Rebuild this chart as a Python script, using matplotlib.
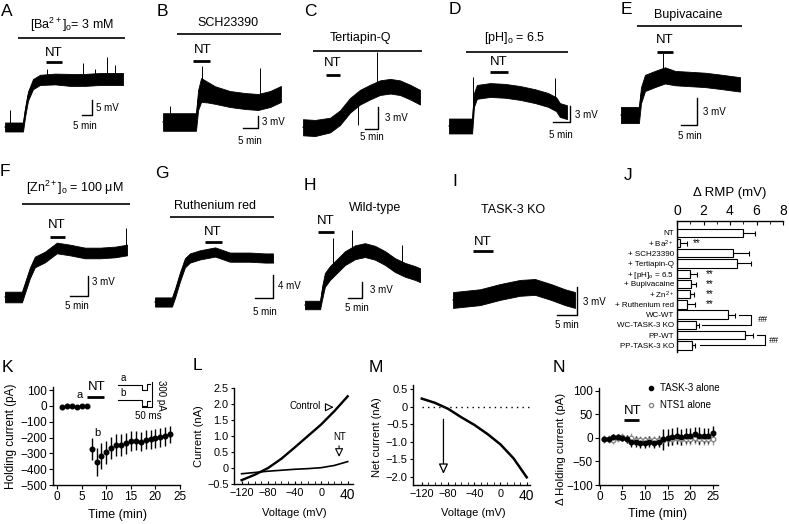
import matplotlib
matplotlib.use('Agg')
import matplotlib.pyplot as plt
import numpy as np
from matplotlib.lines import Line2D

plt.rcParams['font.family'] = ['Liberation Sans', 'DejaVu Sans']
plt.rcParams['mathtext.fontset'] = 'custom'
plt.rcParams['mathtext.rm'] = 'Liberation Sans'
plt.rcParams['mathtext.it'] = 'Liberation Sans:italic'
plt.rcParams['mathtext.bf'] = 'Liberation Sans:bold'
plt.rcParams['axes.linewidth'] = 1.0

# ---------------- data: membrane potential traces (min, mV above baseline) ----------------
A_t = [0, 9, 10, 11.5, 14, 17.5, 25, 32.5, 40, 47.5, 59]
A_v = [0, 0, 4.7, 10.3, 14.3, 15.7, 16, 15.7, 15.7, 16, 16]
A_n = [1.5, 1.5, 1.5, 1.5, 1.7, 1.7, 1.8, 2.0, 2.0, 2.0, 2.0]
A_spk_t = [2.5, 21, 39, 45, 51, 55]
A_spk_v = [5.7, 19.5, 21.3, 19.5, 23.3, 20.7]

B_t = [0, 11, 11.7, 12.7, 14.7, 17.3, 22.3, 27.3, 31.7, 35.7, 39.3]
B_v = [0, 0, 5.5, 8, 7.5, 6.75, 5.75, 5.25, 5, 5.75, 7]
B_n = [2.2, 2.2, 2.5, 3.0, 2.6, 2.2, 2.0, 2.0, 2.0, 2.0, 2.0]
B_spk_t = [2.3, 13, 32.3]
B_spk_v = [4, 14, 13.5]

C_t = [0, 4.6, 10.4, 14.2, 18.1, 21.9, 25.8, 29.6, 33.5, 37.3, 41.2, 45]
C_v = [0.1, 0, 0.4, 1.4, 3.1, 4.2, 4.9, 5.5, 5.7, 5.5, 4.9, 4.2]
C_n = [1.1, 1.1, 1.0, 1.0, 1.0, 1.0, 1.0, 1.0, 1.0, 1.0, 1.0, 1.0]
C_spk_t = [21, 28.5]
C_spk_v = [0.4, 10.4]

D_t = [0, 6.8, 7.35, 8.2, 12.1, 16.5, 20.9, 25.3, 29.1, 31.5, 32.6, 34.7]
D_v = [0, 0, 4.9, 6.4, 6.75, 6.6, 6.2, 5.6, 4.9, 4.1, 3.0, 2.6]
D_n = [1.4, 1.4, 1.3, 1.3, 1.3, 1.3, 1.3, 1.3, 1.3, 1.3, 1.3, 1.3]
D_spk_t = [7, 31.2]
D_spk_v = [9.2, 9]

E_t = [0, 5.6, 6.25, 7.5, 10.6, 13.75, 16.9, 21.6, 26.25, 30.9, 37.2]
E_v = [0, 0, 2.2, 3.56, 4, 4.4, 4.1, 4, 3.9, 3.7, 3.4]
E_n = [0.9, 0.9, 0.9, 0.9, 0.9, 0.9, 0.8, 0.8, 0.8, 0.8, 0.8]
E_spk_t = [13]
E_spk_v = [6.9]

F_t = [0, 4.7, 5.8, 6.9, 8.3, 11.1, 14.4, 18, 22.2, 26.4, 30.6, 33.9]
F_v = [0, 0, 1.8, 3.6, 5.25, 6, 7.35, 7.05, 6.6, 6.6, 6.75, 7.05]
F_n = [0.8, 0.8, 0.8, 0.8, 0.8, 0.8, 0.8, 0.8, 0.8, 0.8, 0.8, 0.8]
F_spk_t = [33.6]
F_spk_v = [10.3]

G_t = [0, 4.7, 5.6, 6.9, 8.3, 9.7, 12.5, 16.7, 20.8, 26.4, 30.6, 32.8]
G_v = [0, 0, 1.6, 4.3, 6.8, 7.65, 8.2, 8.7, 7.8, 7.8, 7.65, 7.65]
G_n = [0.8, 0.8, 0.8, 0.8, 0.8, 0.8, 0.8, 0.8, 0.8, 0.8, 0.8, 0.8]
G_spk_t = []
G_spk_v = []

H_t = [0, 5.4, 6.1, 7.1, 8.9, 11.8, 14.3, 17.9, 21.4, 25, 28.6, 32.1, 35.7, 39.3, 41.1]
H_v = [0, 0, 2.25, 4.7, 6, 7.5, 8.8, 9.9, 10.3, 9.8, 8.8, 7.5, 6.6, 6, 5.6]
H_n = [0.8, 0.8, 1.2, 1.3, 1.3, 1.3, 1.3, 1.3, 1.3, 1.3, 1.3, 1.3, 1.3, 1.3, 1.3]
H_spk_t = [10, 16.8, 34.6]
H_spk_v = [12.6, 14, 11.3]

I_t = [0, 6.75, 11.75, 16.75, 20.5, 24.5, 28, 30.5]
I_v = [0, 0.3, 0.86, 1.3, 1.4, 0.86, 0.3, 0]
I_n = [0.85, 0.85, 0.85, 0.85, 0.85, 0.85, 0.85, 0.85]

# ---------------- data: J bar chart ----------------
J_labels = ['NT', r'+ Ba$^{2+}$', '+ SCH23390', '+ Tertiapin-Q', r'+ [pH]$_{\rm o}$ = 6.5',
            '+ Bupivacaine', r'+ Zn$^{2+}$', '+ Ruthenium red', 'WC-WT', 'WC-TASK-3 KO',
            'PP-WT', 'PP-TASK-3 KO']
J_mean = [5.0, 0.25, 4.2, 4.5, 1.0, 1.05, 1.0, 0.75, 3.85, 1.45, 5.1, 1.1]
J_err = [0.9, 0.5, 1.2, 1.1, 0.5, 0.4, 0.3, 0.6, 0.5, 0.2, 0.6, 0.25]

# ---------------- data: K holding current ----------------
K_t = list(range(1, 24))
K_mean = [-5, 2, 2, -5, 2, 2, -275, -355, -317, -294, -268, -247, -245, -237, -222,
          -222, -226, -215, -210, -206, -199, -191, -180]
K_err = [0, 0, 0, 0, 0, 0, 70, 90, 80, 72, 70, 70, 70, 65, 62, 60, 60, 60, 60, 60, 60, 60, 55]
# inset current traces (ms, pA)
Ka_t = [0, 118, 118, 143, 143, 160]
Ka_i = [0, 0, -60, -60, 15, 15]
Kb_t = [0, 118, 118, 143, 143, 160]
Kb_i = [-176, -176, -246, -246, -190, -190]

# ---------------- data: L I-V ----------------
L_V = [-120, -100, -80, -60, -40, -20, 0, 20, 40]
L_control = [-0.38, -0.21, 0.0, 0.29, 0.64, 1.0, 1.36, 1.78, 2.24]
L_nt = [-0.18, -0.14, -0.10, -0.07, -0.04, -0.02, 0.01, 0.08, 0.2]

# ---------------- data: M net current ----------------
M_V = [-120, -100, -80, -60, -40, -20, 0, 20, 40]
M_I = [0.23, 0.11, -0.06, -0.3, -0.52, -0.78, -1.08, -1.48, -2.02]

# ---------------- data: N ----------------
N_t = list(range(1, 26))
N_task = [-3, -3, 3, 2, 0, -2, -8, -8, -10, -10, -8, -10, -8, -3, 0, 2, 5, 2, 5, 5, 8, 5, 5, 5, 10]
N_task_err = [5, 6, 6, 6, 6, 8, 12, 12, 12, 12, 12, 12, 12, 22, 18, 18, 18, 16, 16, 16, 16, 18, 16, 16, 16]
N_nts = [-2, -2, -5, 0, 2, -2, 0, -5, -5, -5, -5, -5, -5, -5, -3, -3, 0, -3, -3, -3, 0, -3, -3, -3, -3]
N_nts_err = [8, 8, 8, 8, 8, 8, 10, 10, 10, 10, 10, 10, 12, 15, 12, 12, 12, 12, 12, 12, 12, 12, 12, 12, 12]

# ======================================================================
W, H = 789, 524
fig = plt.figure(figsize=(W / 100, H / 100), dpi=100)


def px_axes(l, t, r, b):
    return fig.add_axes([l / W, 1 - b / H, (r - l) / W, (b - t) / H])


def T(x, y, s, size=9, ha='center', va='center', **kw):
    fig.text(x / W, 1 - y / H, s, fontsize=size, ha=ha, va=va, **kw)


def trace_axes(box, x0, y0, ppm, ppv):
    l, t, r, b = box
    ax = px_axes(l, t, r, b)
    ax.set_xlim((l - x0) / ppm, (r - x0) / ppm)
    ax.set_ylim((y0 - b) / ppv, (y0 - t) / ppv)
    ax.axis('off')
    return ax


def trace(ax, t, v, n, spk_t=(), spk_v=()):
    t = np.asarray(t, float); v = np.asarray(v, float); n = np.asarray(n, float)
    ax.fill_between(t, v - n, v + n, color='k', lw=0.6, clip_on=False)
    ax.plot(t, v, color='k', lw=0.8, clip_on=False)
    if len(spk_t):
        base = np.interp(spk_t, t, v)
        ax.vlines(spk_t, base, spk_v, color='k', lw=0.7, clip_on=False)


def hbar(ax, t0, t1, v, lw):
    ax.plot([t0, t1], [v, v], color='k', lw=lw, solid_capstyle='butt', clip_on=False)


def sbar(ax, tr, vb, dt, dv):
    ax.plot([tr - dt, tr, tr], [vb, vb, vb + dv], color='k', lw=1.0, clip_on=False)


panels = [
    # box, x0, y0, ppm, ppv, data, cond(t0,t1,v), nt(t0,t1,v), scalebar(tr,vb,dv)
    ((0, 0, 155, 150), 5, 127, 2.0, 3.0, (A_t, A_v, A_n, A_spk_t, A_spk_v), (6.5, 60, 29.7), (20.5, 28.5, 21.7), (43.5, 4, 5)),
    ((155, 0, 300, 150), 163, 122, 3.0, 4.0, (B_t, B_v, B_n, B_spk_t, B_spk_v), (4.7, 39.3, 22), (10, 15.7, 15.25), (31.7, -1.5, 3)),
    ((300, 0, 445, 150), 303, 128, 2.6, 7.33, (C_t, C_v, C_n, C_spk_t, C_spk_v), (3.8, 45.8, 10.5), (8.8, 14.2, 7.2), (28.8, -0.14, 3)),
    ((445, 0, 615, 150), 449, 126, 3.4, 5.33, (D_t, D_v, D_n, D_spk_t, D_spk_v), (5, 35, 13.9), (12.1, 17.4, 10.1), (35.6, 0.75, 3)),
    ((615, 0, 789, 150), 621, 115, 3.2, 9.0, (E_t, E_v, E_n, E_spk_t, E_spk_v), (5, 37.8, 9.9), (11.25, 16.25, 7), (23.75, -1.1, 3)),
    ((0, 155, 150, 330), 5, 297, 3.6, 6.67, (F_t, F_v, F_n, F_spk_t, F_spk_v), (4.7, 34.7, 13.95), (12.5, 16.7, 9), (23, 0.15, 3)),
    ((150, 155, 295, 330), 155, 302, 3.6, 5.75, (G_t, G_v, G_n, G_spk_t, G_spk_v), (4.2, 33, 14.8), (13.9, 18.6, 10.4), (32.8, 0.7, 4)),
    ((295, 155, 440, 330), 305, 305, 2.8, 5.33, (H_t, H_v, H_n, H_spk_t, H_spk_v), None, (4.6, 10.4, 13.7), (20.4, 1.3, 3)),
    ((440, 155, 620, 330), 453, 300, 4.0, 9.33, (I_t, I_v, I_n, [], []), None, (5, 10, 5.25), (31, -1.6, 3)),
]
for box, x0, y0, ppm, ppv, dat, cond, nt, sb in panels:
    ax = trace_axes(box, x0, y0, ppm, ppv)
    trace(ax, *dat)
    if cond is not None:
        hbar(ax, cond[0], cond[1], cond[2], 1.2)
    hbar(ax, nt[0], nt[1], nt[2], 2.0)
    sbar(ax, sb[0], sb[1], 5, sb[2])

# texts for trace panels
cond_txt = [((72, 25), r'[Ba$^{2+}$]$_{\rm o}$= 3 mM'), ((228, 23), 'SCH23390'),
            ((360, 38), 'Tertiapin-Q'), ((515, 38), r'[pH]$_{\rm o}$ = 6.5'),
            ((688, 15), 'Bupivacaine'), ((75, 188), r'[Zn$^{2+}$]$_{\rm o}$ = 100 μM'),
            ((215, 206), 'Ruthenium red'), ((375, 208), 'Wild-type'), ((513, 210), 'TASK-3 KO')]
for (x, y), s in cond_txt:
    T(x, y, s, 9)
for x, y in [(54, 53), (203, 50), (333, 63), (499, 62), (665, 40), (57, 225), (213, 232), (326, 221), (483, 242)]:
    T(x, y, 'NT', 9.5)
for x, y, s in [(96, 108, '5 mV'), (262, 122, '3 mV'), (385, 118, '3 mV'), (575, 115, '3 mV'),
                (703, 112, '3 mV'), (92, 282, '3 mV'), (278, 286, '4 mV'), (370, 290, '3 mV'),
                (583, 302, '3 mV')]:
    T(x, y, s, 7, ha='left')
for x, y in [(85, 126), (250, 141), (372, 137), (561, 135), (690, 136), (77, 306), (265, 312),
             (357, 308), (567, 325)]:
    T(x, y, '5 min', 7)

# panel letters
for x, y, s in [(7, 11, 'A'), (162, 11, 'B'), (310, 11, 'C'), (455, 9, 'D'), (626, 9, 'E'),
                (5, 172, 'F'), (162, 173, 'G'), (310, 185, 'H'), (455, 182, 'I'), (628, 175, 'J'),
                (7, 367, 'K'), (197, 365, 'L'), (376, 367, 'M'), (559, 367, 'N')]:
    T(x, y, s, 12.5)

# ---------------- J ----------------
axJ = px_axes(677, 221, 783, 352)
rows = np.arange(len(J_labels))
axJ.barh(rows, J_mean, height=0.82, color='white', edgecolor='black', lw=0.8)
axJ.errorbar(J_mean, rows, xerr=[np.zeros(len(J_err)), J_err], fmt='none', ecolor='k',
             elinewidth=0.8, capsize=1.8, capthick=0.8)
axJ.set_xlim(0, 8)
axJ.set_ylim(11.65, -1.15)
axJ.spines['right'].set_visible(False)
axJ.spines['bottom'].set_visible(False)
axJ.xaxis.tick_top()
axJ.set_xticks([0, 2, 4, 6, 8])
axJ.set_xticks([1, 3, 5, 7], minor=True)
axJ.tick_params(axis='x', which='major', direction='in', length=3, labelsize=10, pad=2)
axJ.tick_params(axis='x', which='minor', direction='in', length=2)
axJ.set_yticks(rows, J_labels)
axJ.tick_params(axis='y', length=0, labelsize=5.8, pad=2)
T(730, 193, 'Δ RMP (mV)', 9.5)
axJ.text(1.45, 1, '**', fontsize=7, va='center', ha='center')
for r in [4, 5, 6, 7]:
    axJ.text(2.45, r, '**', fontsize=7, va='center', ha='center')
axJ.plot([4.65, 5.55, 5.55, 1.9], [8, 8, 9, 9], color='k', lw=0.8, clip_on=False)
axJ.plot([6.0, 6.65, 6.65, 1.75], [10, 10, 11, 11], color='k', lw=0.8, clip_on=False)
axJ.text(6.45, 8.5, '##', fontsize=6.5, va='center', ha='center', style='italic')
axJ.text(7.3, 10.5, '##', fontsize=6.5, va='center', ha='center', style='italic', clip_on=False)


def label_coords(ax, box, xl=None, yl=None):
    l, t, r, b = box
    if xl is not None:
        ax.xaxis.set_label_coords((xl[0] - l) / (r - l), (b - xl[1]) / (b - t))
        ax.xaxis.label.set_va('center')
    if yl is not None:
        ax.yaxis.set_label_coords((yl[0] - l) / (r - l), (b - yl[1]) / (b - t))
        ax.yaxis.label.set_va('center')


# ---------------- K ----------------
boxK = (53.3, 386.7, 180, 485)
axK = px_axes(*boxK)
axK.errorbar(K_t, K_mean, yerr=K_err, fmt='o', color='k', ms=3.3, elinewidth=1.0, capsize=0)
axK.set_xlim(-0.8, 25)
axK.set_ylim(-500, 121)
axK.set_xticks([0, 5, 10, 15, 20, 25])
axK.set_yticks([-500, -400, -300, -200, -100, 0, 100])
for s in ['top', 'right']:
    axK.spines[s].set_visible(False)
axK.tick_params(direction='out', length=3, labelsize=8.5, pad=1.5)
axK.set_xlabel('Time (min)', fontsize=9)
axK.set_ylabel('Holding current (pA)', fontsize=8.5)
label_coords(axK, boxK, xl=(117, 515), yl=(11, 436))
axK.plot([6.1, 9.5], [58, 58], color='k', lw=2.0, solid_capstyle='butt')
T(97, 387, 'NT', 9.5)
T(80, 395, 'a', 8)
T(97, 433, 'b', 8)
# inset
axKi = px_axes(115, 375, 165, 420)
axKi.set_xlim((115 - 118) / 0.2, (165 - 118) / 0.2)
axKi.set_ylim((385 - 420) / 0.0853, (385 - 375) / 0.0853)
axKi.axis('off')
axKi.plot(Ka_t, Ka_i, color='k', lw=0.8)
axKi.plot(Kb_t, Kb_i, color='k', lw=0.8)
axKi.plot([118.5, 168.5, 168.5], [-261, -261, 39], color='k', lw=0.8, clip_on=False)
T(123, 378, 'a', 7)
T(123, 393, 'b', 7)
T(161, 395, '300 pA', 7, rotation=270)
T(148, 416, '50 ms', 7)

# ---------------- L ----------------
boxL = (234.3, 388, 353, 484)
axL = px_axes(*boxL)
axL.plot(L_V, L_control, color='k', lw=1.7)
axL.plot(L_V, L_nt, color='k', lw=1.2)
axL.set_xlim(-131, 48)
axL.set_ylim(-0.5, 2.5)
for s in ['top', 'right']:
    axL.spines[s].set_visible(False)
axL.set_xticks([-120, -80, -40, 0, 40], ['−120', '−80', '−40', '0', '40'])
axL.set_xticks(np.arange(-120, 41, 10), minor=True)
axL.set_yticks([-0.5, 0, 0.5, 1.0, 1.5, 2.0, 2.5], ['−0.5', '0', '0.5', '1.0', '1.5', '2.0', '2.5'])
axL.tick_params(axis='x', which='both', direction='in', length=2.5, labelsize=7.8, pad=3)
axL.tick_params(axis='y', direction='out', length=2.5, labelsize=7.8, pad=1.5)
axL.get_xticklabels()[-1].set_fontsize(10)
axL.set_xlabel('Voltage (mV)', fontsize=8)
axL.set_ylabel('Current (nA)', fontsize=8)
label_coords(axL, boxL, xl=(294, 513), yl=(199, 436))
axL.annotate('', xy=(23, 1.9), xytext=(2, 1.9),
             arrowprops=dict(arrowstyle='-|>,head_length=0.5,head_width=0.25', fc='white', ec='k', lw=0.8))
T(305, 406, 'Control', 7)
axL.annotate('', xy=(27, 0.26), xytext=(27, 0.78),
             arrowprops=dict(arrowstyle='-|>,head_length=0.5,head_width=0.25', fc='white', ec='k', lw=0.8))
T(340, 437, 'NT', 7)

# ---------------- M ----------------
boxM = (413.3, 385, 530, 485)
axM = px_axes(*boxM)
axM.plot(M_V, M_I, color='k', lw=1.8)
axM.plot([-120, 45], [0, 0], color='k', lw=1.0, ls=(0, (1, 3)), clip_on=False)
axM.set_xlim(-133, 45)
axM.set_ylim(-2.24, 0.62)
for s in ['top', 'right']:
    axM.spines[s].set_visible(False)
axM.set_xticks([-120, -80, -40, 0, 40], ['−120', '−80', '−40', '0', '40'])
axM.set_xticks(np.arange(-120, 41, 10), minor=True)
axM.set_yticks([-2.0, -1.5, -1.0, -0.5, 0, 0.5], ['−2.0', '−1.5', '−1.0', '−0.5', '0', '0.5'])
axM.tick_params(axis='x', which='both', direction='in', length=2.5, labelsize=7.8, pad=3)
axM.tick_params(axis='y', direction='out', length=2.5, labelsize=8, pad=1.5)
axM.get_xticklabels()[-1].set_fontsize(10)
axM.set_xlabel('Voltage (mV)', fontsize=8)
axM.set_ylabel('Net current (nA)', fontsize=8)
label_coords(axM, boxM, xl=(473, 513), yl=(377, 437))
axM.annotate('', xy=(-87, -2.0), xytext=(-87, -0.28),
             arrowprops=dict(arrowstyle='-|>,head_length=0.6,head_width=0.28', fc='white', ec='k', lw=0.9))

# ---------------- N ----------------
boxN = (599, 388, 718, 485)
axN = px_axes(*boxN)
axN.errorbar(N_t, N_nts, yerr=N_nts_err, fmt='o', color='#999999', mfc='white', mec='#888888',
             ms=3.3, elinewidth=1.0, capsize=0)
axN.errorbar(N_t, N_task, yerr=N_task_err, fmt='o', color='k', ms=3.3, elinewidth=1.0, capsize=0)
axN.set_xlim(-0.2, 26.2)
axN.set_ylim(-100, 106)
for s in ['top', 'right']:
    axN.spines[s].set_visible(False)
axN.set_xticks([0, 5, 10, 15, 20, 25])
axN.set_yticks([-100, -50, 0, 50, 100], ['−100', '−50', '0', '50', '100'])
axN.tick_params(direction='out', length=3, labelsize=8.5, pad=1.5)
axN.set_xlabel('Time (min)', fontsize=9)
axN.set_ylabel('Δ Holding current (pA)', fontsize=8.2)
label_coords(axN, boxN, xl=(657, 514), yl=(561, 449))
axN.plot([5.3, 8.7], [39, 39], color='k', lw=2.0, solid_capstyle='butt')
T(633, 411, 'NT', 9.5)
hands = [Line2D([], [], marker='o', ls='none', color='k', ms=3),
         Line2D([], [], marker='o', ls='none', mfc='white', mec='#888888', ms=3)]
fig.legend(hands, ['TASK-3 alone', 'NTS1 alone'], loc='upper left',
           bbox_to_anchor=(647 / W, 1 - 383 / H), frameon=False, fontsize=7,
           handlelength=0.8, handletextpad=0.5, labelspacing=0.75, borderpad=0, borderaxespad=0)

fig.savefig('out.png', dpi=100)
